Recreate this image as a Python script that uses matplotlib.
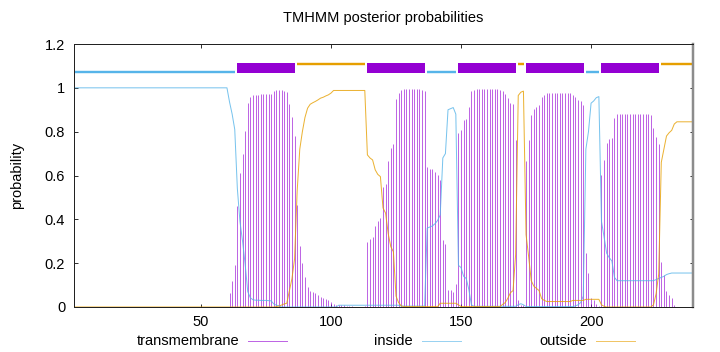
import matplotlib
matplotlib.use("Agg")
import matplotlib.pyplot as plt
from matplotlib.lines import Line2D

plt.rcParams['font.family'] = ['Liberation Sans', 'DejaVu Sans']

# ---------------- data ----------------
residues = list(range(1, 240))

transmembrane = (
    [0.0] * 60
    + [0.065, 0.12, 0.19, 0.46, 0.61, 0.70, 0.805, 0.93, 0.958, 0.967,
       0.968, 0.969, 0.97, 0.97, 0.97, 0.971, 0.972, 0.986, 0.99, 0.99,
       0.991, 0.986, 0.983, 0.927, 0.869, 0.781, 0.466, 0.28, 0.202, 0.135,
       0.093, 0.075, 0.068, 0.062, 0.055, 0.047, 0.043, 0.037, 0.032, 0.024]
    + [0.012, 0.01, 0.01, 0.01, 0.008, 0.006, 0.004, 0.003, 0.002, 0.002,
       0.002, 0.002, 0.003]
    + [0.295, 0.309, 0.318, 0.37, 0.391, 0.405, 0.547, 0.562, 0.664, 0.725,
       0.744, 0.95, 0.976, 0.991, 0.995, 0.995, 0.995, 0.995, 0.995, 0.995,
       0.995, 0.99, 0.986]
    + [0.638, 0.63, 0.63, 0.618, 0.603, 0.58, 0.306, 0.288, 0.078, 0.078,
       0.07, 0.104, 0.796, 0.808, 0.851, 0.857, 0.912]
    + [0.986, 0.991] + [0.993] * 9
    + [0.988, 0.985, 0.97, 0.955, 0.93, 0.925, 0.76, 0.03, 0.01]
    + [0.01, 0.664, 0.763, 0.877, 0.903, 0.912, 0.922, 0.96, 0.968]
    + [0.975] * 10
    + [0.968, 0.957, 0.945, 0.942, 0.92]
    + [0.245, 0.157, 0.04, 0.03, 0.015, 0.005]
    + [0.603, 0.671, 0.747, 0.765, 0.77, 0.861] + [0.88] * 9
    + [0.88, 0.88, 0.88, 0.88, 0.877, 0.816, 0.775, 0.744, 0.207, 0.146,
       0.075, 0.055, 0.041]
    + [0.01] + [0.0] * 7
)

inside = (
    [1.0] * 60
    + [0.935, 0.88, 0.81, 0.54, 0.39, 0.30, 0.195, 0.07, 0.042, 0.033,
       0.031, 0.031, 0.03, 0.03, 0.03, 0.029, 0.028, 0.014, 0.008, 0.006]
    + [0.0] * 22
    + [0.008] * 24
    + [0.004] * 10
    + [0.36, 0.365, 0.37, 0.38, 0.395, 0.42, 0.68, 0.70, 0.90, 0.905,
       0.91, 0.88, 0.19, 0.18, 0.14, 0.13, 0.08, 0.01]
    + [0.003] * 17
    + [0.01, 0.015, 0.01]
    + [0.002] * 19
    + [0.005, 0.01, 0.02, 0.05]
    + [0.72, 0.80, 0.93, 0.94, 0.955, 0.96]
    + [0.39, 0.32, 0.245, 0.225, 0.21, 0.135]
    + [0.12] * 15
    + [0.125, 0.13, 0.135, 0.14, 0.148, 0.152, 0.155]
    + [0.155] * 8
)

outside = (
    [0.0] * 77
    + [0.0, 0.002, 0.004]
    + [0.009, 0.014, 0.017, 0.073, 0.13, 0.22, 0.53, 0.72, 0.80, 0.865,
       0.907, 0.925, 0.932, 0.938, 0.945, 0.953, 0.957, 0.963, 0.968, 0.976]
    + [0.988] * 13
    + [0.694, 0.68, 0.671, 0.626, 0.605, 0.595, 0.452, 0.428, 0.335, 0.275,
       0.252, 0.05, 0.02, 0.005]
    + [0.002] * 9
    + [0.002] * 5
    + [0.017] * 7
    + [0.01]
    + [0.002] * 16
    + [0.012, 0.02, 0.04, 0.065, 0.075, 0.24]
    + [0.965, 0.98, 0.985]
    + [0.33, 0.23, 0.12, 0.095, 0.085, 0.075, 0.038, 0.03]
    + [0.025] * 10
    + [0.03] * 5
    + [0.035] * 6
    + [0.01, 0.003]
    + [0.0] * 18
    + [0.01, 0.06, 0.15, 0.66, 0.72, 0.78, 0.795, 0.806, 0.835]
    + [0.845] * 7
)

topology = ['inside', 'TM', 'outside', 'TM', 'inside', 'TM',
            'outside', 'TM', 'inside', 'TM', 'outside']
topology_start = [1, 64, 87, 114, 137, 149, 172, 175, 198, 204, 227]
topology_end = [63, 86, 113, 136, 148, 171, 174, 197, 203, 226, 239]

x_ticks = [50, 100, 150, 200]
y_ticks = [0, 0.2, 0.4, 0.6, 0.8, 1.0, 1.2]
y_tick_labels = ['0', '0.2', '0.4', '0.6', '0.8', '1', '1.2']

# ---------------- drawing ----------------
PURPLE = '#9400d3'
BLUE = '#56b4e9'
ORANGE = '#e69f00'
W, H = 720, 352
px = 72 / 100  # points per pixel

fig = plt.figure(figsize=(W / 100, H / 100), dpi=100)
ax = fig.add_axes([73.5 / W, 45 / H, 619 / W, 263 / H])

ax.vlines(residues, 0, transmembrane, color=PURPLE, lw=1.0 * px, alpha=0.6)
ax.plot(residues, inside, color=BLUE, lw=1.0 * px, alpha=0.8)
ax.plot(residues, outside, color=ORANGE, lw=1.0 * px, alpha=0.8)

for kind, s, e in zip(topology, topology_start, topology_end):
    if kind == 'TM':
        ax.plot([s, e + 0.2], [1.09, 1.09], color=PURPLE, lw=10 * px,
                solid_capstyle='butt')
    elif kind == 'inside':
        ax.plot([s, e + 0.2], [1.071, 1.071], color=BLUE, lw=2.4 * px,
                solid_capstyle='butt')
    else:
        ax.plot([s, e + 0.2], [1.111, 1.111], color=ORANGE, lw=2.4 * px,
                solid_capstyle='butt')

ax.set_xlim(1, 239)
ax.set_ylim(0, 1.2)
ax.set_xticks(x_ticks)
ax.set_xticklabels([str(t) for t in x_ticks])
ax.set_yticks(y_ticks)
ax.set_yticklabels(y_tick_labels)
ax.tick_params(direction='in', top=True, right=True, length=3.5 * px,
               width=0.8 * px, labelsize=10.5, pad=6)
for side in ['left', 'top', 'bottom']:
    ax.spines[side].set_linewidth(1.0 * px)
    ax.spines[side].set_color('#222222')
ax.spines['right'].set_linewidth(2.5 * px)
ax.spines['right'].set_color('#8c8c8c')

ax.set_ylabel('probability', fontsize=10.5, labelpad=15)
fig.text(383 / W, 1 - 18 / H, 'TMHMM posterior probabilities',
         ha='center', va='center', fontsize=10.5)

# legend below the plot (gnuplot style: text followed by sample)
legend_y = 1 - 341 / H
legend_items = [('transmembrane', PURPLE, 239, 248, 287),
                ('inside', BLUE, 413, 422, 461),
                ('outside', ORANGE, 587, 596, 635)]
for label, col, tx, l0, l1 in legend_items:
    fig.text(tx / W, legend_y, label, ha='right', va='center', fontsize=10.5)
    fig.add_artist(Line2D([l0 / W, l1 / W], [legend_y, legend_y],
                          color=col, lw=1.0 * px, alpha=0.6,
                          transform=fig.transFigure))

fig.savefig('out.png', dpi=100)
